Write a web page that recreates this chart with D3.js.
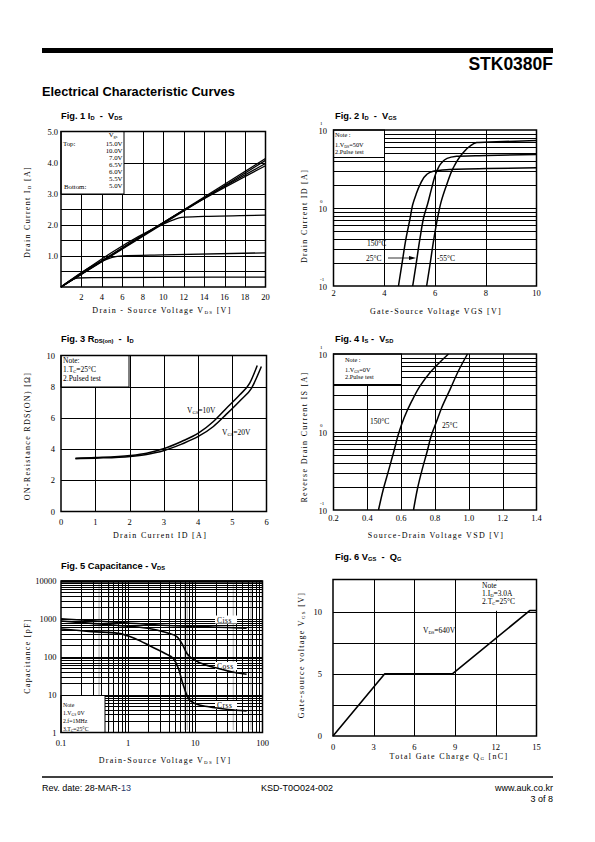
<!DOCTYPE html>
<html><head><meta charset="utf-8">
<script src="https://cdnjs.cloudflare.com/ajax/libs/d3/7.8.5/d3.min.js"></script>
<style>body{margin:0;background:#fff}svg{display:block}</style>
</head><body><svg id="page" width="595" height="842"></svg>
<script>
// ================= DATA =================
// Fig.1  ID - VDS
const fig1XTicks = [2,4,6,8,10,12,14,16,18,20];
const fig1YTicks = [1,2,3,4,5];
const fig1VgsLabels = ["15.0V","10.0V","7.0V","6.5V","6.0V","5.5V","5.0V"];
const fig1Vgs15 = [[0,0],[20,4.13]];
const fig1Vgs10 = [[0,0],[20,4.07]];
const fig1Vgs7  = [[0,0],[14,2.86],[20,3.97]];
const fig1Vgs65 = [[0,0],[14,2.84],[20,3.9]];
const fig1Vgs6  = [[0,0],[10,2.02],[11,2.16],[11.8,2.24],[14,2.27],[20,2.31]];
const fig1Vgs55 = [[0,0],[4.3,0.87],[5,0.95],[6,1.0],[10,1.03],[20,1.1]];
const fig1Vgs5  = [[0,0],[1.2,0.25],[1.6,0.29],[3,0.3],[10,0.31],[20,0.32]];

// Fig.2  ID - VGS
const fig2XTicks = [2,4,6,8,10];
const fig2YTicks = [0.1,1,10];
const fig2T150 = [[4.56,0.1],[4.69,0.185],[4.86,0.41],[5.02,0.74],[5.12,1.1],[5.25,1.48],[5.41,1.99],[5.67,2.68],[5.93,2.96],[6.46,3.1],[8.03,3.2],[10,3.27]];
const fig2T25  = [[5.12,0.1],[5.25,0.185],[5.41,0.41],[5.58,0.82],[5.70,1.1],[5.87,1.8],[6.07,2.96],[6.26,3.8],[6.46,4.3],[6.85,4.6],[8.03,4.7],[10,4.85]];
const fig2Tm55 = [[5.67,0.1],[5.80,0.185],[5.96,0.41],[6.10,0.74],[6.24,1.2],[6.46,1.99],[6.72,3.27],[7.05,4.85],[7.38,6.2],[7.64,6.9],[8.16,7.0],[10,7.35]];

// Fig.3  RDS(on) - ID
const fig3XTicks = [0,1,2,3,4,5,6];
const fig3YTicks = [0,2,4,6,8,10];
const fig3Vgs10 = [[0.42,3.42],[1,3.46],[2.02,3.59],[2.5,3.74],[2.99,4.02],[3.52,4.49],[4.01,5.02],[4.45,5.77],[4.83,6.62],[5.22,7.48],[5.51,8.23],[5.73,9.36]];
const fig3Vgs20 = [[0.42,3.38],[1,3.42],[2.02,3.53],[2.5,3.66],[2.99,3.89],[3.52,4.32],[4.01,4.81],[4.45,5.45],[4.83,6.24],[5.22,7.09],[5.56,7.9],[5.85,9.29]];

// Fig.4  IS - VSD
const fig4XTicks = [0.2,0.4,0.6,0.8,1.0,1.2,1.4];
const fig4YTicks = [0.1,1,10];
const fig4T150 = [[0.466,0.1],[0.496,0.19],[0.525,0.317],[0.555,0.545],[0.584,0.94],[0.618,1.53],[0.663,2.5],[0.712,3.9],[0.771,5.8],[0.83,7.9],[0.88,10]];
const fig4T25  = [[0.673,0.1],[0.697,0.19],[0.722,0.317],[0.752,0.545],[0.781,0.94],[0.807,1.32],[0.84,2.06],[0.89,3.55],[0.939,6.1],[0.992,10]];

// Fig.5  Capacitance - VDS
const fig5XTicks = [0.1,1,10,100];
const fig5YTicks = [1,10,100,1000,10000];
const fig5Ciss = [[0.1,1000],[0.2,930],[0.5,840],[1,780],[2.8,690],[6,650],[15.7,615],[30,590],[58,570]];
const fig5Coss = [[0.1,880],[0.29,760],[0.9,650],[2.24,540],[4.0,415],[5.3,340],[6.3,225],[7.5,122],[8.9,90],[12.5,66],[22,49],[39,38.5],[58,34.5]];
const fig5Crss = [[0.1,540],[0.29,460],[0.71,415],[1.26,305],[2.24,183],[3.55,122],[4.7,90],[5.6,49],[6.6,18],[7.9,7.9],[9.9,5.8],[15.8,4.77],[31,4.05],[58,3.73]];

// Fig.6  VGS - QG
const fig6XTicks = [0,3,6,9,12,15];
const fig6YTicks = [0,5,10];
const fig6Qg  = [0,3.8,8.8,14.5,15];
const fig6Vgs = [0,5,5,10.1,10.1];

// ================= DRAWING =================
const svg = d3.select('#page');
const SERIF = "'Liberation Serif','DejaVu Serif',serif";
const SANS = "'Liberation Sans',Arial,sans-serif";

function rich(sel, parts, size) {
  parts.forEach(p => {
    const t = sel.append('tspan').text(p[0]);
    if (p[1] === 'sub') t.attr('font-size', size * 0.62).attr('baseline-shift', '-22%');
    if (p[1] === 'sup') t.attr('font-size', size * 0.62).attr('baseline-shift', '55%');
  });
  return sel;
}
function txt(x, y, parts, o = {}) {
  const size = o.size || 8;
  const t = svg.append('text').attr('x', x).attr('y', y)
    .attr('font-family', o.font || SERIF).attr('font-size', size)
    .attr('font-weight', o.weight || 'normal')
    .attr('text-anchor', o.anchor || 'start')
    .attr('fill', o.fill || '#000')
    .attr('letter-spacing', o.ls || 0);
  if (o.rotate) t.attr('transform', `rotate(-90 ${x} ${y})`);
  if (typeof parts === 'string') t.text(parts); else rich(t, parts, size);
  return t;
}
const px = v => Math.round(v) + 0.5;

function plot(o) {
  const g = svg.append('g');
  const x = o.x.range([o.L, o.R]);
  const y = o.y.range([o.B, o.T]);
  if (o.pre) o.pre(g, x, y);
  g.selectAll(null).data(o.xGrid).join('line')
    .attr('x1', d => px(x(d))).attr('x2', d => px(x(d)))
    .attr('y1', o.T).attr('y2', o.B)
    .attr('stroke', '#000').attr('stroke-width', 1).attr('shape-rendering', 'crispEdges');
  g.selectAll(null).data(o.yGrid).join('line')
    .attr('y1', d => px(y(d))).attr('y2', d => px(y(d)))
    .attr('x1', o.L).attr('x2', o.R)
    .attr('stroke', '#000').attr('stroke-width', 1).attr('shape-rendering', 'crispEdges');
  if (o.note) o.note(g, x, y);
  const line = d3.line().x(d => x(d[0])).y(d => y(d[1])).curve(o.curve || d3.curveLinear);
  o.series.forEach(s => {
    g.append('path').datum(s).attr('d', line)
      .attr('fill', 'none').attr('stroke', '#000').attr('stroke-width', o.sw || 1.6)
      .attr('stroke-linejoin', 'round');
  });
  g.append('rect').attr('x', o.L).attr('y', o.T).attr('width', o.R - o.L).attr('height', o.B - o.T)
    .attr('fill', 'none').attr('stroke', '#000').attr('stroke-width', 1.5);
  // ticks
  o.xTicks.forEach(v => txt(x(v), o.xTickY, o.xFmt ? o.xFmt(v) : String(v), { anchor: 'middle', size: 8.5 }));
  o.yTicks.forEach(v => {
    if (o.logY) {
      const yy = y(v) + 3.5;
      txt(o.yTickX, yy, '10', { anchor: 'end', size: 8.5 });
      txt(o.yTickX - 7, y(v) - 5.5, String(Math.round(Math.log10(v))), { anchor: 'start', size: 5 });
    } else {
      txt(o.yTickX, y(v) + 3, o.yFmt ? o.yFmt(v) : String(v), { anchor: 'end', size: 8.5 });
    }
  });
  txt(o.xLab[0], o.xLab[1], o.xLab[2], { anchor: 'middle', size: 8, ls: 1.3 });
  txt(o.yLab[0], o.yLab[1], o.yLab[2], { anchor: 'middle', size: 8, ls: 1.3, rotate: true });
  if (o.post) o.post(g, x, y);
  return { x, y };
}

function noteBox(g, x0, y0, x1, y1, border) {
  g.append('rect').attr('x', x0).attr('y', y0).attr('width', x1 - x0).attr('height', y1 - y0)
    .attr('fill', '#fff').attr('stroke', border ? '#000' : 'none').attr('stroke-width', 1);
}

// ---------- Header / footer ----------
svg.append('rect').attr('x', 42).attr('y', 48).attr('width', 511).attr('height', 5).attr('fill', '#000');
txt(553, 70, 'STK0380F', { font: SANS, weight: 'bold', size: 17.5, anchor: 'end' });
txt(42, 96, 'Electrical Characteristic Curves', { font: SANS, weight: 'bold', size: 12.8 });

const T = { font: SANS, weight: 'bold', size: 9.3 };
const SP = '\u00a0\u00a0-\u00a0\u00a0';
txt(61, 119, [['Fig. 1 I'], ['D', 'sub'], [SP + 'V'], ['DS', 'sub']], T);
txt(335, 119, [['Fig. 2 I'], ['D', 'sub'], [SP + 'V'], ['GS', 'sub']], T);
txt(61, 342, [['Fig. 3 R'], ['DS(on)', 'sub'], [SP + 'I'], ['D', 'sub']], T);
txt(335, 342, [['Fig. 4 I'], ['S', 'sub'], [' -\u00a0\u00a0V'], ['SD', 'sub']], T);
txt(61, 569, [['Fig. 5 Capacitance - V'], ['DS', 'sub']], T);
txt(335, 560, [['Fig. 6 V'], ['GS', 'sub'], [SP + 'Q'], ['G', 'sub']], T);

svg.append('line').attr('x1', 42).attr('x2', 553).attr('y1', 777).attr('y2', 777).attr('stroke', '#000').attr('stroke-width', 1.5);
const ft = txt(42, 791, [['Rev. date: 28-MAR-']], { font: SANS, size: 9 });
ft.append('tspan').text('13').attr('fill', '#2b3a6b');
txt(297, 791, 'KSD-T0O024-002', { font: SANS, size: 9, anchor: 'middle' });
txt(553, 791, 'www.auk.co.kr', { font: SANS, size: 9, anchor: 'end' });
txt(553, 802, '3 of 8', { font: SANS, size: 9, anchor: 'end' });

// ---------- Fig 1 ----------
plot({
  L: 61, R: 265.5, T: 131.5, B: 287,
  x: d3.scaleLinear().domain([0, 20]), y: d3.scaleLinear().domain([0, 5]),
  xGrid: [2,4,6,8,10,12,14,16,18], yGrid: [0.5,1,1.5,2,2.5,3,4],
  series: [fig1Vgs15, fig1Vgs10, fig1Vgs7, fig1Vgs65, fig1Vgs6, fig1Vgs55, fig1Vgs5],
  curve: d3.curveMonotoneX, sw: 1.3,
  xTicks: fig1XTicks, xTickY: 300, yTicks: fig1YTicks, yTickX: 58, yFmt: v => v.toFixed(1),
  xLab: [162, 313, [['Drain - Source Voltage V'], ['DS', 'sub'], [' [V]']]],
  yLab: [30, 212, [['Drain Current I'], ['D', 'sub'], [' [A]']]],
  note: (g) => {
    noteBox(g, 61, 131.5, 124, 194, true);
  },
  post: () => {
    const s = 6.8;
    txt(113, 137, [['V'], ['gs', 'sub']], { size: s, anchor: 'middle' });
    txt(63, 145.5, 'Top:', { size: s });
    txt(64, 188.5, 'Bottom:', { size: s });
    fig1VgsLabels.forEach((l, i) => txt(122.5, 145.5 + i * 7.05, l, { size: s, anchor: 'end' }));
  }
});

// log grid helper
function logGrid(d0, d1) {
  const out = [];
  for (let d = d0; d < d1; d++) for (let k = 1; k <= 9; k++) out.push(k * Math.pow(10, d));
  return out.filter(v => v > Math.pow(10, d0) * 1.0001);
}

// ---------- Fig 2 ----------
plot({
  L: 333.5, R: 536.5, T: 130, B: 286,
  x: d3.scaleLinear().domain([2, 10]), y: d3.scaleLog().domain([0.1, 10]),
  xGrid: [4,6,8], yGrid: logGrid(-1, 1),
  series: [fig2T150, fig2T25, fig2Tm55], curve: d3.curveMonotoneY, sw: 1.5,
  xTicks: fig2XTicks, xTickY: 295.5, yTicks: fig2YTicks, logY: true, yTickX: 327,
  xLab: [436, 314, 'Gate-Source Voltage VGS [V]'],
  yLab: [307, 216, 'Drain Current ID [A]'],
  note: (g) => noteBox(g, 333.5, 130, 384.5, 157.5, true),
  post: (g) => {
    txt(335, 137, 'Note :', { size: 6.3 });
    txt(335, 147, [['1.V'], ['DS', 'sub'], ['=50V']], { size: 6.3 });
    txt(335, 154, '2.Pulse test', { size: 6.3 });
    txt(367, 246, '150°C', { size: 7.5 });
    txt(366, 261, '25°C', { size: 7.5 });
    txt(437, 261, '-55°C', { size: 7.5 });
    svg.append('line').attr('x1', 388).attr('x2', 410).attr('y1', 258).attr('y2', 258).attr('stroke', '#000').attr('stroke-width', 0.8);
    svg.append('path').attr('d', 'M409,256 L416,258 L409,260 Z').attr('fill', '#000');
  }
});

// ---------- Fig 3 ----------
plot({
  L: 61, R: 266.5, T: 355.5, B: 511.5,
  x: d3.scaleLinear().domain([0, 6]), y: d3.scaleLinear().domain([0, 10]),
  xGrid: [1,2,3,4,5], yGrid: [2,4,6,8],
  series: [fig3Vgs10, fig3Vgs20], curve: d3.curveMonotoneX, sw: 1.5,
  xTicks: fig3XTicks, xTickY: 524.5, yTicks: fig3YTicks, yTickX: 55,
  xLab: [160, 538, 'Drain Current ID [A]'],
  yLab: [30, 436, 'ON-Resistance RDS(ON) [Ω]'],
  note: (g) => noteBox(g, 61, 355.5, 129, 387, true),
  post: () => {
    txt(63, 362.5, 'Note:', { size: 7.5 });
    txt(63, 371.5, [['1.T'], ['C', 'sub'], ['=25°C']], { size: 7.5 });
    txt(63, 380.5, '2.Pulsed  test', { size: 7.5 });
    txt(187, 413, [['V'], ['GS', 'sub'], ['=10V']], { size: 7.5 });
    txt(222, 435, [['V'], ['GS', 'sub'], ['=20V']], { size: 7.5 });
  }
});

// ---------- Fig 4 ----------
plot({
  L: 333.5, R: 536.5, T: 354, B: 510,
  x: d3.scaleLinear().domain([0.2, 1.4]), y: d3.scaleLog().domain([0.1, 10]),
  xGrid: [0.4,0.6,0.8,1.0,1.2], yGrid: logGrid(-1, 1),
  series: [fig4T150, fig4T25], curve: d3.curveMonotoneY, sw: 1.5,
  xTicks: fig4XTicks, xTickY: 520.5, xFmt: v => v.toFixed(1), yTicks: fig4YTicks, logY: true, yTickX: 327,
  xLab: [436, 538, 'Source-Drain Voltage VSD [V]'],
  yLab: [307, 437, 'Reverse Drain Current IS [A]'],
  note: (g) => noteBox(g, 333.5, 354, 401.5, 384.5, true),
  post: () => {
    txt(345, 361.5, 'Note :', { size: 6.3 });
    txt(345, 372, [['1.V'], ['GS', 'sub'], ['=0V']], { size: 6.3 });
    txt(345, 379, '2.Pulse test', { size: 6.3 });
    txt(370, 424, '150°C', { size: 7.5 });
    txt(442, 428, '25°C', { size: 7.5 });
  }
});

// ---------- Fig 5 ----------
const fig5Faint = [0.35, 0.49, 6.6, 7.2, 35, 64];
plot({
  L: 61, R: 262.5, T: 581, B: 732.5,
  x: d3.scaleLog().domain([0.1, 100]), y: d3.scaleLog().domain([1, 10000]),
  xGrid: logGrid(-1, 2), yGrid: logGrid(0, 4),
  series: [fig5Ciss, fig5Coss, fig5Crss], curve: d3.curveMonotoneX, sw: 1.6,
  xTicks: fig5XTicks, xTickY: 745.5, xFmt: v => (v < 1 ? '0.1' : String(v)),
  yTicks: fig5YTicks, yTickX: 56.5,
  xLab: [165, 763, [['Drain-Source Voltage V'], ['DS', 'sub'], [' [V]']]],
  yLab: [30, 656, 'Capacitance [pF]'],
  pre: (g, x) => {
    g.selectAll(null).data(fig5Faint).join('line')
      .attr('x1', d => x(d) + 1.5).attr('x2', d => x(d) + 1.5).attr('y1', 583).attr('y2', 730)
      .attr('stroke', '#c4c4c4').attr('stroke-width', 1.5);
  },
  note: (g) => {
    noteBox(g, 61, 695.5, 105, 732.5, true);
    [['Ciss', 619.5], ['Coss', 666], ['Crss', 705]].forEach(d => {
      g.append('rect').attr('x', 215).attr('y', d[1] - 4).attr('width', 22).attr('height', 8).attr('fill', '#fff');
    });
  },
  post: () => {
    svg.append('line').attr('x1', 61).attr('x2', 262.5).attr('y1', 581.5).attr('y2', 581.5).attr('stroke', '#000').attr('stroke-width', 2.5);
    txt(217, 622.5, 'Ciss', { size: 7.5, ls: 0.5 });
    txt(217, 669, 'Coss', { size: 7.5, ls: 0.5 });
    txt(217, 708, 'Crss', { size: 7.5, ls: 0.5 });
    txt(63, 706.5, 'Note', { size: 5.8 });
    txt(63, 714.5, [['1.V'], ['GS', 'sub'], [' 0V']], { size: 5.8 });
    txt(63, 722.5, '2.f=1MHz', { size: 5.8 });
    txt(63, 730.5, [['3.T'], ['C', 'sub'], ['=25°C']], { size: 5.8 });
  }
});

// ---------- Fig 6 ----------
plot({
  L: 333, R: 536.5, T: 579.5, B: 736,
  x: d3.scaleLinear().domain([0, 15]), y: d3.scaleLinear().domain([0, 12.6]),
  xGrid: [3,6,9,12], yGrid: [2.5,5,7.5,10],
  series: [fig6Qg.map((q, i) => [q, fig6Vgs[i]])], sw: 1.6,
  xTicks: fig6XTicks, xTickY: 749.5, yTicks: fig6YTicks, yTickX: 322,
  xLab: [449, 759, [['Total Gate Charge Q'], ['G', 'sub'], [' [nC]']]],
  yLab: [304, 655, [['Gate-source voltage V'], ['GS', 'sub'], [' [V]']]],
  note: (g, x, y) => noteBox(g, 478, 580.5, 535.5, y(10) - 1, false),
  post: () => {
    txt(482, 588, 'Note', { size: 7.5 });
    txt(482, 596, [['1.I'], ['D', 'sub'], ['=3.0A']], { size: 7.5 });
    txt(482, 604, [['2.T'], ['C', 'sub'], ['=25°C']], { size: 7.5 });
    txt(423, 633, [['V'], ['DS', 'sub'], ['=640V']], { size: 7.5 });
  }
});
</script>
</body></html>
